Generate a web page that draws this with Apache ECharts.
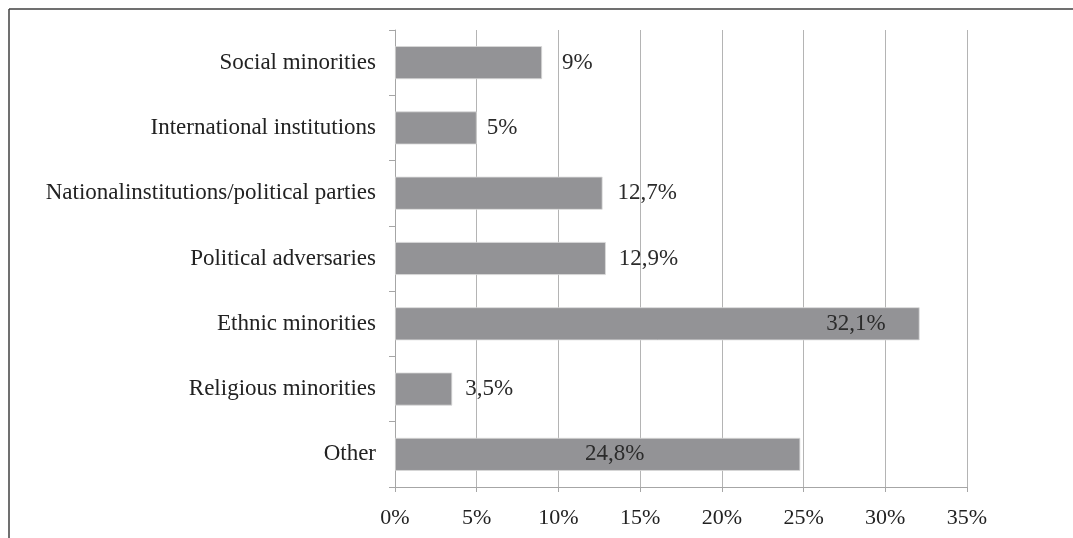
<!DOCTYPE html>
<html>
<head>
<meta charset="utf-8">
<script src="https://cdn.jsdelivr.net/npm/echarts@6/dist/echarts.min.js"></script>
<style>
html,body{margin:0;padding:0;background:#fff;}
#chart{width:1073px;height:538px;}
</style>
</head>
<body>
<div id="chart"></div>
<script>
const categories = ["Social minorities", "International institutions", "Nationalinstitutions/political parties", "Political adversaries", "Ethnic minorities", "Religious minorities", "Other"];
const values = [9, 5, 12.7, 12.9, 32.1, 3.5, 24.8];
const tickLabels = ["0%", "5%", "10%", "15%", "20%", "25%", "30%", "35%"];

// label placement per bar (style only)
const labelStyle = [
  {position: 'right', distance: 20},
  {position: 'right', distance: 10},
  {position: 'right', distance: 15},
  {position: 'right', distance: 13},
  {position: 'insideRight', distance: 34},
  {position: 'right', distance: 13},
  {position: 'insideRight', distance: 156}
];

const FONT = '"Liberation Serif", "Times New Roman", serif';
const chart = echarts.init(document.getElementById('chart'), null, {renderer: 'canvas'});
chart.setOption({
  animation: false,
  backgroundColor: '#fff',
  grid: {left: 395, right: 106, top: 30, bottom: 51, containLabel: false},
  graphic: [
    {type: 'line', shape: {x1: 9, y1: 9, x2: 1073, y2: 9}, style: {stroke: '#404040', lineWidth: 1.5}},
    {type: 'line', shape: {x1: 9, y1: 9, x2: 9, y2: 538}, style: {stroke: '#404040', lineWidth: 1.5}}
  ],
  xAxis: {
    type: 'value', min: 0, max: 35, interval: 5,
    axisLine: {show: true, lineStyle: {color: '#a6a6a6', width: 1}},
    axisTick: {show: true, length: 5, lineStyle: {color: '#a6a6a6'}},
    splitLine: {show: true, lineStyle: {color: '#b4b4b4', width: 1}},
    axisLabel: {
      margin: 20, color: '#222', fontFamily: FONT, fontSize: 22,
      formatter: v => tickLabels[Math.round(v / 5)]
    }
  },
  yAxis: {
    type: 'category', data: categories, inverse: true,
    axisLine: {show: true, lineStyle: {color: '#a6a6a6', width: 1}},
    axisTick: {show: true, length: 6, lineStyle: {color: '#a6a6a6'}},
    axisLabel: {margin: 19, color: '#222', fontFamily: FONT, fontSize: 23}
  },
  series: [{
    type: 'bar',
    barWidth: 33,
    data: values.map((v, i) => ({
      value: v,
      label: {position: labelStyle[i].position, distance: labelStyle[i].distance}
    })),
    itemStyle: {color: '#939396', borderColor: '#d9d9d9', borderWidth: 0.8},
    label: {
      show: true, color: '#2b2b2b', fontFamily: FONT, fontSize: 23,
      formatter: p => String(p.value).replace('.', ',') + '%'
    }
  }]
});
</script>
</body>
</html>
